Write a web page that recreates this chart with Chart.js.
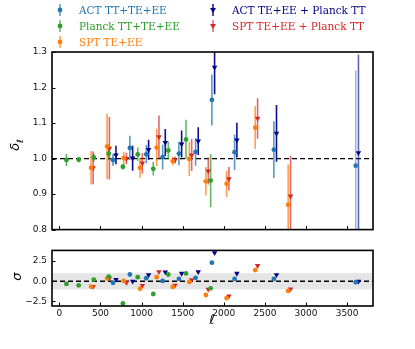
<!DOCTYPE html>
<html>
<head>
<meta charset="utf-8">
<script src="https://cdn.jsdelivr.net/npm/chart.js@4.4.0/dist/chart.umd.min.js"></script>
<style>
  body { margin: 0; background: #fff; }
  #wrap { position: relative; width: 415px; height: 349px; overflow: hidden; }
  #wrap canvas { position: absolute; left: 0; }
  .leg { position: absolute; font-family: "DejaVu Serif", serif; font-size: 10.5px; line-height: 12px; white-space: nowrap; }
  .mk { position: absolute; }
  .lab { position: absolute; font-family: "DejaVu Sans", sans-serif; font-style: italic; color: #000; white-space: nowrap; text-align: center; }
</style>
</head>
<body>
<div id="wrap">
  <canvas id="top" width="415" height="240" style="top:0"></canvas>
  <canvas id="bot" width="415" height="109" style="top:240px"></canvas>
  <div id="legend"></div>
  <div class="lab" style="left:1px;top:136px;width:30px;font-size:13px;transform:rotate(-90deg)">δ<sub style="font-size:9px">ℓ</sub></div>
  <div class="lab" style="left:1px;top:269px;width:30px;font-size:13px;transform:rotate(-90deg)">σ</div>
  <div class="lab" style="left:197px;top:312px;width:30px;font-size:13px">ℓ</div>
</div>
<script>
// ACT TT+TE+EE
const actEll   = [652, 857, 1057, 1256, 1454, 1657, 1855, 2131, 2609, 3605];
const actDelta = [0.996, 1.030, 1.012, 1.004, 1.014, 1.019, 1.165, 1.018, 1.025, 0.980];
const actErr   = [0.017, 0.034, 0.026, 0.035, 0.033, 0.039, 0.072, 0.050, 0.080, 0.268];
const actSigma = [-0.2, 0.83, 0.38, 0.04, 0.29, 0.42, 2.29, 0.29, 0.29, -0.12];

// Planck TT+TE+EE
const planckEll   = [86, 235, 418, 600, 772, 953, 1142, 1325, 1540, 1840];
const planckDelta = [0.996, 0.997, 1.003, 1.014, 0.977, 1.012, 0.971, 1.023, 1.054, 0.938];
const planckErr   = [0.017, 0.008, 0.011, 0.018, 0.008, 0.019, 0.019, 0.025, 0.055, 0.075];
const planckSigma = [-0.33, -0.5, 0.2, 0.58, -2.75, 0.5, -1.58, 0.83, 0.96, -0.87];

// SPT TE+EE
const sptEll   = [385, 580, 783, 980, 1183, 1378, 1580, 1782, 2034, 2382, 2783];
const sptDelta = [0.974, 1.034, 1.001, 0.974, 1.031, 0.993, 0.999, 0.936, 0.929, 1.087, 0.870];
const sptErr   = [0.047, 0.092, 0.018, 0.028, 0.053, 0.012, 0.048, 0.040, 0.037, 0.060, 0.113];
const sptSigma = [-0.67, 0.33, 0.04, -0.92, 0.5, -0.7, -0.08, -1.7, -2.08, 1.38, -1.2];

// ACT TE+EE + Planck TT
const actPlEll   = [688, 891, 1085, 1288, 1487, 1689, 1888, 2159, 2641, 3638];
const actPlDelta = [1.010, 1.001, 1.025, 1.045, 1.041, 1.049, 1.257, 1.052, 1.071, 1.016];
const actPlErr   = [0.026, 0.035, 0.028, 0.038, 0.038, 0.039, 0.076, 0.049, 0.080, 0.277];
const actPlSigma = [0.21, 0.0, 0.79, 1.12, 0.96, 1.17, 3.5, 0.96, 0.79, 0.0];

// SPT TE+EE + Planck TT
const sptPlEll   = [410, 608, 815, 1009, 1211, 1406, 1609, 1811, 2062, 2411, 2812];
const sptPlDelta = [0.974, 1.029, 1.000, 0.987, 1.061, 0.996, 1.010, 0.965, 0.943, 1.113, 0.894];
const sptPlErr   = [0.046, 0.088, 0.016, 0.029, 0.060, 0.010, 0.045, 0.038, 0.033, 0.057, 0.113];
const sptPlSigma = [-0.67, 0.38, -0.17, -0.54, 1.17, -0.5, 0.17, -1.0, -1.83, 1.92, -0.96];

const ellTicks = [0, 500, 1000, 1500, 2000, 2500, 3000, 3500];
const deltaTicks = [0.8, 0.9, 1.0, 1.1, 1.2, 1.3];
const sigmaTicks = [-2.5, 0.0, 2.5];

const series = [
  {name: 'ACT TT+TE+EE',          ell: actEll,    d: actDelta,    e: actErr,    s: actSigma,    col: '#1f77b4', err: 'rgba(31,119,180,0.75)',  shape: 'circle'},
  {name: 'Planck TT+TE+EE',       ell: planckEll, d: planckDelta, e: planckErr, s: planckSigma, col: '#2ca02c', err: 'rgba(44,160,44,0.75)',   shape: 'circle'},
  {name: 'SPT TE+EE',             ell: sptEll,    d: sptDelta,    e: sptErr,    s: sptSigma,    col: '#ff7f0e', err: 'rgba(255,127,14,0.75)',  shape: 'circle'},
  {name: 'ACT TE+EE + Planck TT', ell: actPlEll,  d: actPlDelta,  e: actPlErr,  s: actPlSigma,  col: '#00008b', err: 'rgba(0,0,139,0.95)',     shape: 'triangle'},
  {name: 'SPT TE+EE + Planck TT', ell: sptPlEll,  d: sptPlDelta,  e: sptPlErr,  s: sptPlSigma,  col: '#d62728', err: 'rgba(214,39,40,0.7)',    shape: 'triangle'}
];

// legend (html text + small svg markers)
const legPos = [[60, 10.3], [60, 26], [60, 42], [213, 10.3], [213, 26]];
let legHtml = '';
series.forEach((s, i) => {
  const [x, y] = legPos[i];
  const m = s.shape === 'circle'
    ? '<circle cx="5" cy="7" r="2.4" fill="' + s.col + '"/>'
    : '<polygon points="2,5 8,5 5,10" fill="' + s.col + '"/>';
  legHtml += '<svg class="mk" width="10" height="14" style="left:' + (x - 5) + 'px;top:' + (y - 7) + 'px">' +
    '<line x1="5" y1="1" x2="5" y2="13" stroke="' + s.err + '" stroke-width="1.5"/>' + m + '</svg>';
  legHtml += '<div class="leg" style="left:' + (x + 19) + 'px;top:' + (y - 6.5) + 'px;color:' + s.col + '">' + s.name + '</div>';
});
document.getElementById('legend').innerHTML = legHtml;

const errorBars = {
  id: 'errorBars',
  beforeDatasetsDraw(chart, args, opts) {
    const ctx = chart.ctx, a = chart.chartArea;
    const xs = chart.scales.x, ys = chart.scales.y;
    ctx.save();
    ctx.beginPath();
    ctx.rect(a.left, a.top, a.right - a.left, a.bottom - a.top);
    ctx.clip();
    if (opts.band) {
      ctx.fillStyle = '#e5e5e5';
      const y1 = ys.getPixelForValue(opts.band[1]), y0 = ys.getPixelForValue(opts.band[0]);
      ctx.fillRect(a.left, y1, a.right - a.left, y0 - y1);
    }
    // reference line
    const yr = ys.getPixelForValue(opts.ref);
    ctx.strokeStyle = '#000';
    ctx.lineWidth = 1.3;
    ctx.setLineDash([5, 3]);
    ctx.beginPath();
    ctx.moveTo(a.left, yr);
    ctx.lineTo(a.right, yr);
    ctx.stroke();
    ctx.setLineDash([]);
    chart.data.datasets.forEach(ds => {
      if (!ds.errs) return;
      ctx.lineWidth = 1.6;
      ds.data.forEach((p, i) => {
        const x = xs.getPixelForValue(p.x);
        // the very wide bars are drawn fainter
        ctx.globalAlpha = ds.errs[i] > 0.2 ? 0.65 : 1;
        ctx.strokeStyle = ds.errColor;
        ctx.beginPath();
        ctx.moveTo(x, ys.getPixelForValue(p.y - ds.errs[i]));
        ctx.lineTo(x, ys.getPixelForValue(p.y + ds.errs[i]));
        ctx.stroke();
      });
      ctx.globalAlpha = 1;
    });
    ctx.restore();
  }
};

const frame = {
  id: 'frame',
  afterDraw(chart) {
    const ctx = chart.ctx, a = chart.chartArea;
    const xs = chart.scales.x, ys = chart.scales.y;
    ctx.save();
    ctx.strokeStyle = '#000';
    ctx.lineWidth = 1;
    xs.ticks.forEach(t => {
      const x = Math.round(xs.getPixelForValue(t.value)) + 0.5;
      ctx.beginPath(); ctx.moveTo(x, a.bottom); ctx.lineTo(x, a.bottom - 3.5); ctx.stroke();
    });
    ys.ticks.forEach(t => {
      const y = Math.round(ys.getPixelForValue(t.value)) + 0.5;
      ctx.beginPath(); ctx.moveTo(a.left, y); ctx.lineTo(a.left + 3.5, y); ctx.stroke();
    });
    ctx.lineWidth = 1.6;
    ctx.strokeRect(a.left, a.top, a.right - a.left, a.bottom - a.top);
    ctx.restore();
  }
};

const tickFont = {family: '"DejaVu Sans", sans-serif', size: 9};

function fixTicks(vals) {
  return scale => { scale.ticks = vals.map(v => ({value: v})); };
}
function fmt(v) {
  return v.toFixed(1).replace('-', '\u2212');
}

function makeChart(id, key, errs, yMin, yMax, yTicks, opts) {
  const datasets = series.map(s => ({
    label: s.name,
    data: s.ell.map((l, i) => ({x: l, y: s[key][i]})),
    errs: errs ? s.e : null,
    errColor: s.err,
    backgroundColor: s.col,
    borderColor: s.col,
    borderWidth: 0,
    pointStyle: s.shape,
    rotation: s.shape === 'triangle' ? 180 : 0,
    pointRadius: s.shape === 'triangle' ? 3.2 : 2.4,
    showLine: false
  }));
  return new Chart(document.getElementById(id), {
    type: 'scatter',
    data: {datasets},
    plugins: [errorBars, frame],
    options: {
      responsive: false,
      animation: false,
      layout: {padding: opts.padding},
      plugins: {legend: {display: false}, tooltip: {enabled: false}, errorBars: opts.bars},
      scales: {
        x: {
          type: 'linear', min: -90, max: 3815,
          afterBuildTicks: fixTicks(ellTicks),
          afterFit: s => { s.height = opts.xHeight; },
          grid: {display: false, drawTicks: false},
          border: {display: false},
          ticks: {display: opts.xLabels, font: tickFont, color: '#111', padding: 2, maxRotation: 0,
                  callback: v => String(v)}
        },
        y: {
          type: 'linear', min: yMin, max: yMax,
          afterBuildTicks: fixTicks(yTicks),
          afterFit: s => { s.width = 52; },
          grid: {display: false, drawTicks: false},
          border: {display: false},
          ticks: {font: tickFont, color: '#111', padding: 5, callback: v => fmt(v)}
        }
      }
    }
  });
}

makeChart('top', 'd', true, 0.8, 1.3, deltaTicks,
  {padding: {top: 52, bottom: 1, left: 0, right: 42}, xHeight: 0, xLabels: false, bars: {ref: 1.0}});
makeChart('bot', 's', false, -3.06, 3.81, sigmaTicks,
  {padding: {top: 10, bottom: 0, left: 0, right: 42}, xHeight: 43, xLabels: true, bars: {ref: 0, band: [-1, 1]}});
</script>
</body>
</html>
